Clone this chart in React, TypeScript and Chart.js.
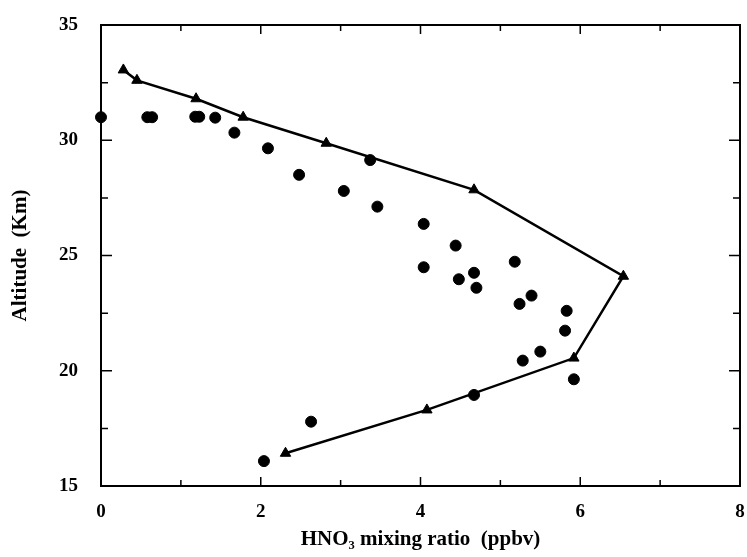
import React, { useEffect, useRef } from "react";
import { Chart, registerables } from "chart.js";

Chart.register(...registerables);

// Model profile (line with triangles)
const modelX = [0.28, 0.45, 1.19, 1.78, 2.82, 4.67, 6.54, 5.92, 4.08, 2.31];
const modelY = [33.05, 32.6, 31.8, 31.0, 29.87, 27.85, 24.1, 20.55, 18.3, 16.42];

// Measurements (filled circles)
const obsX = [0.0, 0.58, 0.64, 1.18, 1.23, 1.43, 1.67, 2.09, 2.48, 3.04, 3.37, 3.46, 4.04, 4.44, 4.04, 4.48, 4.67, 4.7, 5.18, 5.24, 5.39, 5.83, 5.81, 5.5, 5.28, 5.92, 4.67, 2.63, 2.04];
const obsY = [31.0, 31.0, 31.0, 31.02, 31.02, 30.98, 30.33, 29.65, 28.5, 27.8, 29.14, 27.12, 26.37, 25.43, 24.49, 23.97, 24.25, 23.6, 24.73, 22.9, 23.26, 22.6, 21.74, 20.83, 20.44, 19.63, 18.95, 17.79, 16.08];

const xMin = 0, xMax = 8, xStep = 2, xMinorStep = 1;
const yMin = 15, yMax = 35, yStep = 5, yMinorStep = 2.5;

const xTitle = "HNO\u2083 mixing ratio  (ppbv)";
const yTitle = "Altitude  (Km)";

const FONT = "'Liberation Serif', 'Times New Roman', serif";

const frame = {
  id: "frame",
  afterDatasetsDraw(chart: any) {
    const { ctx, chartArea: a, scales } = chart;
    const xs = scales.x, ys = scales.y;
    ctx.save();
    ctx.strokeStyle = "#000";
    ctx.lineWidth = 2;
    ctx.strokeRect(a.left, a.top, a.right - a.left, a.bottom - a.top);
    ctx.lineWidth = 1.5;
    ctx.beginPath();
    for (let v = xMin + xMinorStep; v < xMax; v += xMinorStep) {
      const px = xs.getPixelForValue(v);
      const len = v % xStep === 0 ? 9 : 6;
      ctx.moveTo(px, a.bottom); ctx.lineTo(px, a.bottom - len);
      ctx.moveTo(px, a.top); ctx.lineTo(px, a.top + len);
    }
    for (let v = yMin + yMinorStep; v < yMax; v += yMinorStep) {
      const py = ys.getPixelForValue(v);
      const len = v % yStep === 0 ? 11 : 7;
      ctx.moveTo(a.left, py); ctx.lineTo(a.left + len, py);
      ctx.moveTo(a.right, py); ctx.lineTo(a.right - len, py);
    }
    ctx.stroke();
    ctx.restore();
  },
};

export default function App() {
  const ref = useRef<HTMLCanvasElement>(null);
  useEffect(() => {
    document.body.style.margin = "0";
    const chart = new Chart(ref.current!, {
      type: "scatter",
      data: {
        datasets: [
          {
            label: "model",
            data: modelX.map((x, i) => ({ x, y: modelY[i] })),
            showLine: true,
            borderColor: "#000",
            backgroundColor: "#000",
            borderWidth: 2.5,
            pointStyle: "triangle",
            pointRadius: 6,
            pointBorderWidth: 1,
            clip: false as any,
          },
          {
            label: "obs",
            data: obsX.map((x, i) => ({ x, y: obsY[i] })),
            showLine: false,
            borderColor: "#000",
            backgroundColor: "#000",
            pointStyle: "circle",
            pointRadius: 5.5,
            pointBorderWidth: 1,
            clip: false as any,
          },
        ],
      },
      options: {
        animation: false,
        responsive: false,
        maintainAspectRatio: false,
        layout: { padding: { top: 25, right: 5, bottom: 0, left: 0 } },
        plugins: { legend: { display: false }, tooltip: { enabled: false } },
        scales: {
          x: {
            type: "linear",
            min: xMin,
            max: xMax,
            grid: { display: false, drawTicks: false },
            border: { display: false },
            ticks: { stepSize: xStep, padding: 15, color: "#000", font: { family: FONT, size: 19, weight: "bold" } },
            title: {
              display: true,
              text: xTitle,
              color: "#000",
              font: { family: FONT, size: 21, weight: "bold" },
              padding: { top: 0, bottom: 5 },
            },
            afterFit: (s: any) => {
              s.height = 71;
              s.paddingLeft = 0;
              s.paddingRight = 0;
              s.paddingTop = 0;
              s.paddingBottom = 0;
            },
          },
          y: {
            type: "linear",
            min: yMin,
            max: yMax,
            grid: { display: false, drawTicks: false },
            border: { display: false },
            ticks: { stepSize: yStep, padding: 23, color: "#000", font: { family: FONT, size: 19, weight: "bold" } },
            title: {
              display: true,
              text: yTitle,
              color: "#000",
              font: { family: FONT, size: 21, weight: "bold" },
              padding: { top: 8, bottom: 0 },
            },
            afterFit: (s: any) => {
              s.width = 101;
              s.paddingLeft = 0;
              s.paddingRight = 0;
              s.paddingTop = 0;
              s.paddingBottom = 0;
            },
          },
        },
      },
      plugins: [frame],
    });
    return () => chart.destroy();
  }, []);
  return (
    <div style={{ width: 747, height: 557, background: "#fff" }}>
      <canvas ref={ref} width={747} height={557} style={{ display: "block" }} />
    </div>
  );
}
